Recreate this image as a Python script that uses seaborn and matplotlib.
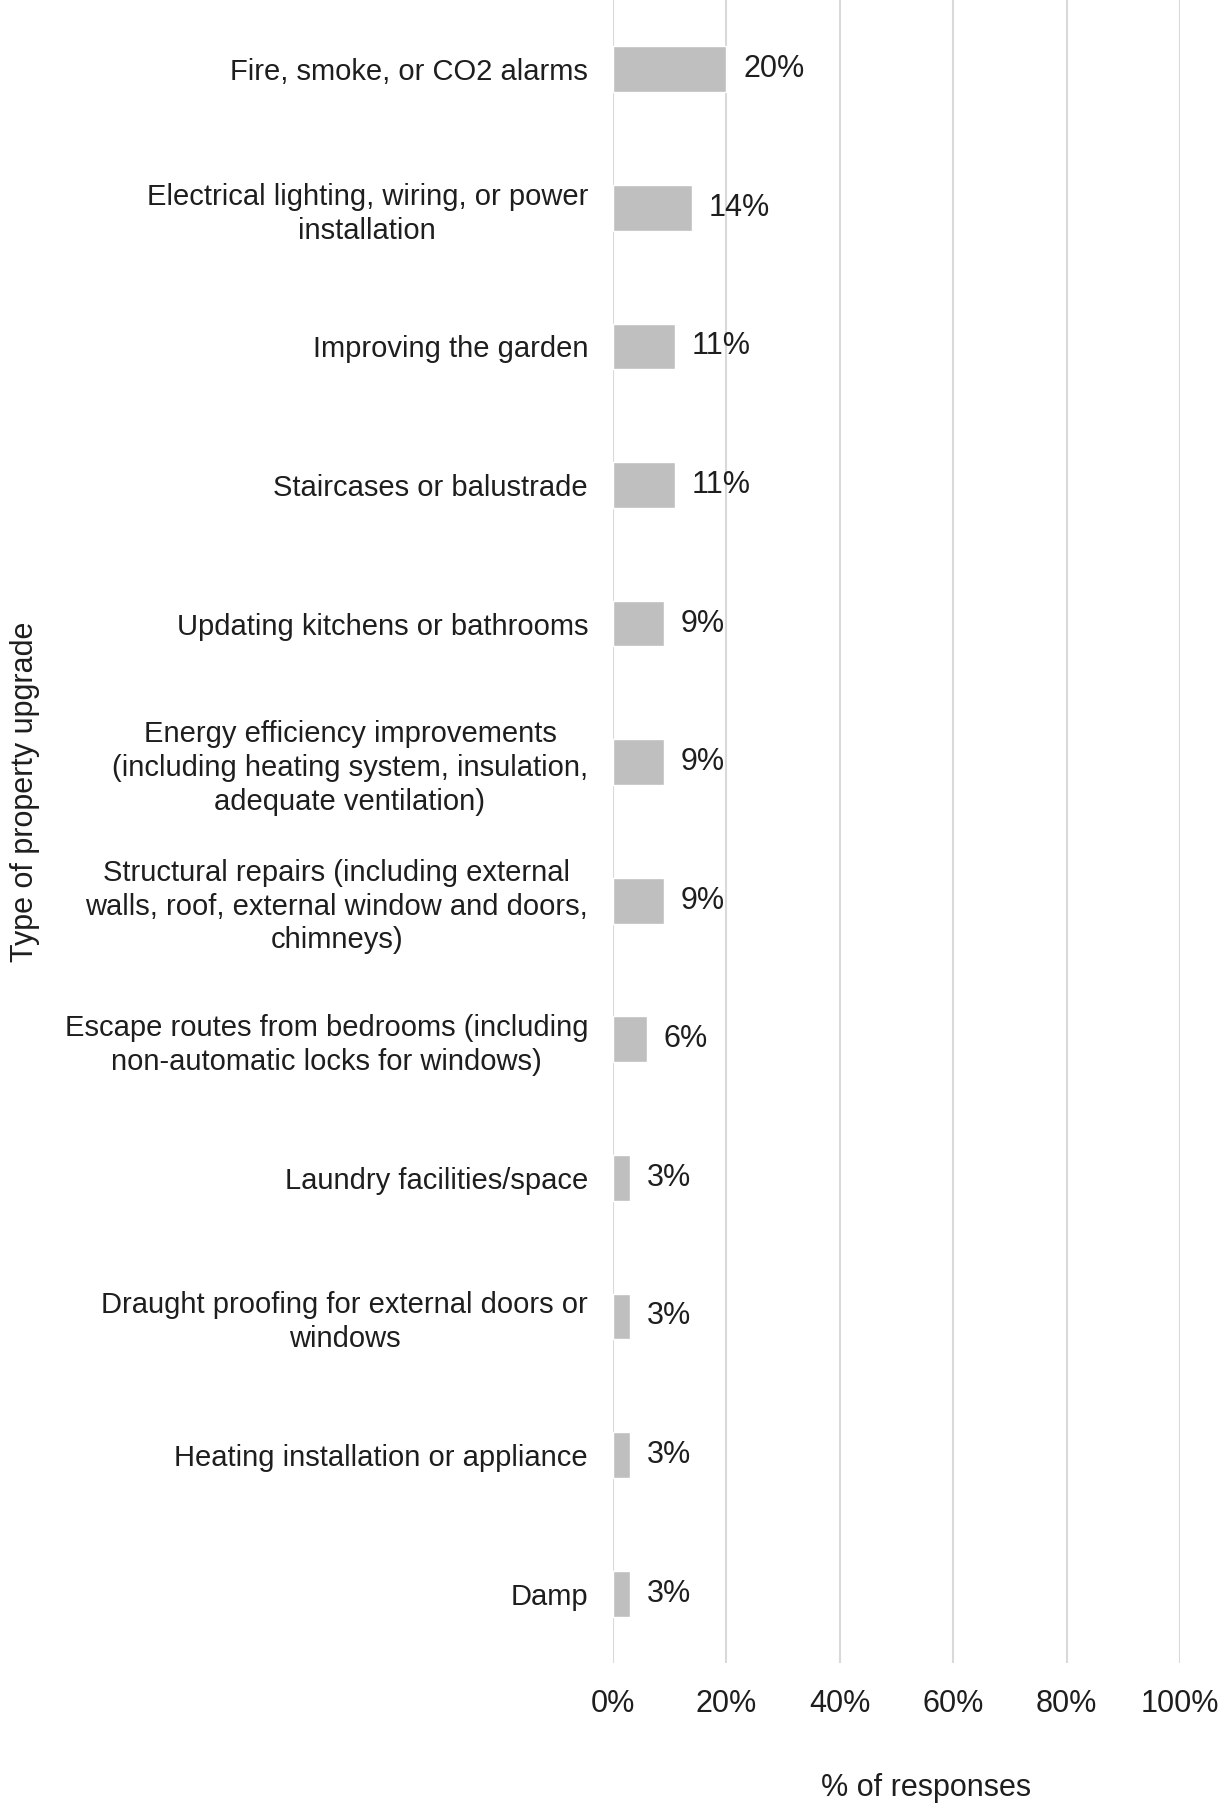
import matplotlib
matplotlib.use("Agg")
import matplotlib.pyplot as plt
import seaborn as sns
import pandas as pd
from matplotlib.ticker import FuncFormatter

categories = [
    "Fire, smoke, or CO2 alarms",
    "Electrical lighting, wiring, or power\ninstallation",
    "Improving the garden",
    "Staircases or balustrade",
    "Updating kitchens or bathrooms",
    "Energy efficiency improvements\n(including heating system, insulation,\nadequate ventilation)",
    "Structural repairs (including external\nwalls, roof, external window and doors,\nchimneys)",
    "Escape routes from bedrooms (including\nnon-automatic locks for windows)",
    "Laundry facilities/space",
    "Draught proofing for external doors or\nwindows",
    "Heating installation or appliance",
    "Damp",
]
values = [20, 14, 11, 11, 9, 9, 9, 6, 3, 3, 3, 3]
x_ticks = [0, 20, 40, 60, 80, 100]

sns.set_theme(style="white")
plt.rcParams["font.family"] = ["Liberation Sans", "DejaVu Sans"]

TEXT = "#1e1e1e"
FS = 21

df = pd.DataFrame({"upgrade": categories, "pct": values})

fig = plt.figure(figsize=(12.27, 18.05), dpi=100)
ax = fig.add_axes([0.4996, 0.0787, 0.4621, 0.9213])

sns.barplot(data=df, x="pct", y="upgrade", orient="h", color="#bfbfbf",
            saturation=1, width=0.33, ax=ax)

ax.set_xlim(0, 100)
ax.set_xticks(x_ticks)
ax.xaxis.set_major_formatter(FuncFormatter(lambda v, _: f"{v:.0f}%"))
ax.grid(axis="x", color="#d9d9d9", linewidth=1.5)
ax.grid(axis="y", visible=False)
ax.set_axisbelow(True)
for s in ax.spines.values():
    s.set_visible(False)

ax.tick_params(axis="x", length=0, pad=19, labelsize=22, labelcolor=TEXT)
ax.tick_params(axis="y", length=0, pad=18, labelsize=FS, labelcolor=TEXT)
for lab in ax.get_yticklabels():
    lab.set_multialignment("center")
    lab.set_linespacing(1.26)

for cont in ax.containers:
    ax.bar_label(cont, labels=[f"{v}%" for v in values], padding=12,
                 fontsize=22, color=TEXT)

ax.set_xlabel("% of responses", fontsize=22, color=TEXT)
ax.xaxis.label.set_va("center")
ax.xaxis.set_label_coords(0.552, -0.0755)

ax.set_ylabel("Type of property upgrade", fontsize=22, color=TEXT)
ax.yaxis.label.set_va("center")
ax.yaxis.set_label_coords(-1.037, 0.524)

fig.savefig("out.png", dpi=100)
